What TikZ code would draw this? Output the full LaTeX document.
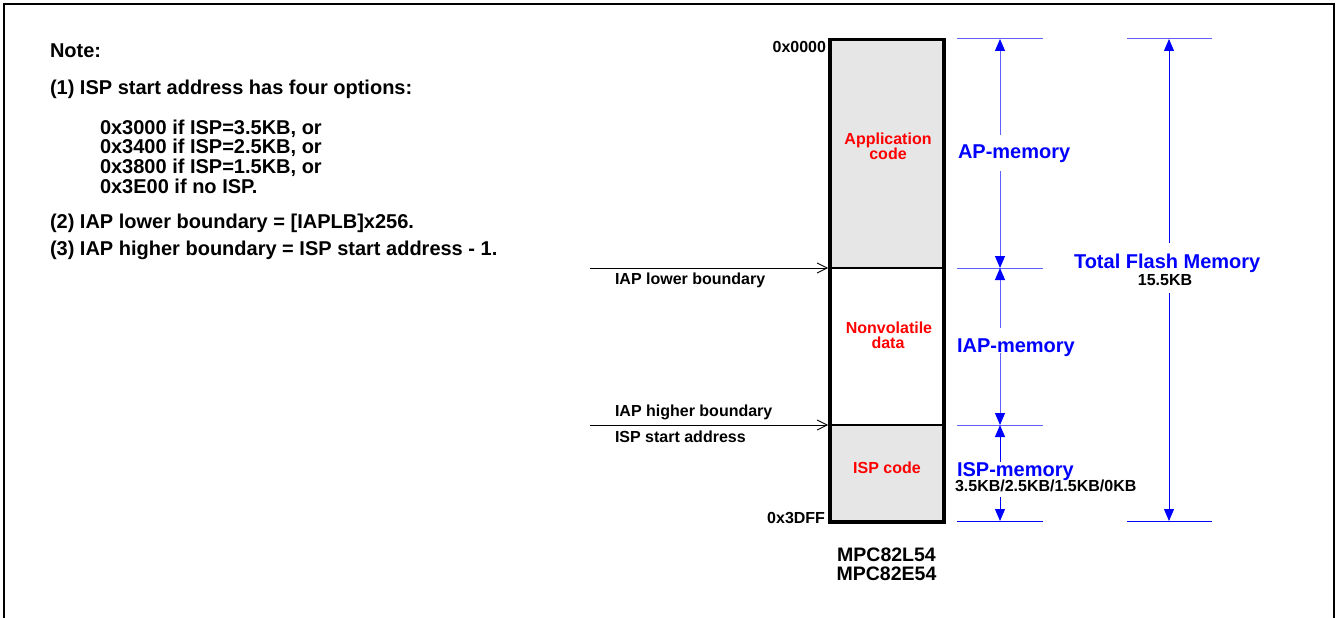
\documentclass[tikz,border=0pt]{standalone}
\usepackage{fontspec}
\setmainfont{Liberation Sans}
\usetikzlibrary{arrows.meta}
\definecolor{memred}{RGB}{255,0,0}
\definecolor{dimblue}{RGB}{0,0,255}
\definecolor{dimlight}{RGB}{95,95,255}
\definecolor{memgray}{RGB}{230,230,230}
\begin{document}
\begin{tikzpicture}[x=1pt,y=-1pt,
  every node/.style={inner sep=0pt,outer sep=0pt,font=\bfseries},
  notetxt/.style={anchor=base west,font=\fontsize{20}{21}\selectfont\bfseries},
  smalltxt/.style={font=\fontsize{16}{17}\selectfont\bfseries},
  regiontxt/.style={anchor=base,text=memred,font=\fontsize{16}{17}\selectfont\bfseries},
  bigblue/.style={anchor=base west,text=dimblue,font=\fontsize{20}{21}\selectfont\bfseries},
  chiptxt/.style={anchor=base,font=\fontsize{19.5}{20}\selectfont\bfseries},
  ptr/.style={line width=0.8pt,-{Straight Barb[length=10pt,width=10pt,line width=0.8pt]}},
  tick/.style={line width=1pt},
  dimarrow/.style={line width=1pt,-{Triangle[length=12pt,width=10pt,color=dimblue]}}]
\useasboundingbox (0,0) rectangle (1344,618);
% outer frame
\draw[line width=2.5pt] (4,618) -- (4,4) -- (1334,4) -- (1334,618);
% notes
\node[notetxt] (n0) at (50,58) {Note:};
\node[notetxt] (n1) at (50,94) {(1) ISP start address has four options:};
\node[notetxt] (n1a) at (100,134) {0x3000 if ISP=3.5KB, or};
\node[notetxt] (n1b) at (100,153.8) {0x3400 if ISP=2.5KB, or};
\node[notetxt] (n1c) at (100,173.6) {0x3800 if ISP=1.5KB, or};
\node[notetxt] (n1d) at (100,193.3) {0x3E00 if no ISP.};
\node[notetxt] (n2) at (50,228) {(2) IAP lower boundary = [IAPLB]x256.};
\node[notetxt] (n3) at (50,255) {(3) IAP higher boundary = ISP start address - 1.};
% memory map
\fill[memgray] (830,39.5) rectangle (944,268);
\fill[memgray] (830,425) rectangle (944,522);
\draw[line width=2pt] (830,268) -- (944,268);
\draw[line width=2pt] (830,425) -- (944,425);
\draw[line width=3.5pt] (830,39.5) rectangle (944,522);
\node[regiontxt] (app1) at (888,144) {Application};
\node[regiontxt] (app2) at (888,159) {code};
\node[regiontxt] (nv1) at (889,333) {Nonvolatile};
\node[regiontxt] (nv2) at (888,348) {data};
\node[regiontxt] (ispc) at (887,473) {ISP code};
\node[smalltxt,anchor=base east] (a0) at (826,53) {0x0000};
\node[smalltxt,anchor=base east] (a1) at (825,523) {0x3DFF};
\node[chiptxt] (chip1) at (886.5,561) {MPC82L54};
\node[chiptxt] (chip2) at (886.5,580) {MPC82E54};
% boundary pointers
\coordinate (lbs) at (590,268);
\coordinate (lbe) at (828,268);
\coordinate (hbs) at (590,425);
\coordinate (hbe) at (828,425);
\draw[ptr] (lbs) -- (lbe);
\draw[ptr] (hbs) -- (hbe);
\node[smalltxt,anchor=base west] (lbl) at (615,284) {IAP lower boundary};
\node[smalltxt,anchor=base west] (hbl) at (615,416) {IAP higher boundary};
\node[smalltxt,anchor=base west] (isl) at (615,442) {ISP start address};
% dimension ticks
\coordinate (t0a) at (957,39);  \coordinate (t0b) at (1043,39);
\coordinate (t1a) at (957,268); \coordinate (t1b) at (1043,268);
\coordinate (t2a) at (957,425); \coordinate (t2b) at (1043,425);
\coordinate (t3a) at (957,521); \coordinate (t3b) at (1043,521);
\coordinate (u0a) at (1127,39); \coordinate (u0b) at (1212,39);
\coordinate (u3a) at (1127,521); \coordinate (u3b) at (1212,521);
\draw[tick,dimlight] (t0a) -- (t0b);
\draw[tick,dimlight] (t1a) -- (t1b);
\draw[tick,dimlight] (t2a) -- (t2b);
\draw[tick,dimblue] (t3a) -- (t3b);
\draw[tick,dimlight] (u0a) -- (u0b);
\draw[tick,dimblue] (u3a) -- (u3b);
% dimension labels
\node[bigblue] (apm) at (958,158) {AP-memory};
\node[bigblue] (iapm) at (957,352) {IAP-memory};
\node[bigblue] (ispm) at (957,476) {ISP-memory};
\node[smalltxt,anchor=base west] (ispsz) at (955,491) {3.5KB/2.5KB/1.5KB/0KB};
\node[bigblue] (tot) at (1074,268) {Total Flash Memory};
\node[smalltxt,anchor=base] (totsz) at (1165,285) {15.5KB};
% dimension arrows
\coordinate (d0) at (1000,39);
\coordinate (d1) at (1000,268);
\coordinate (d2) at (1000,425);
\coordinate (d3) at (1000,521);
\coordinate (ap1) at (1000,135);  \coordinate (ap2) at (1000,171);
\coordinate (iap1) at (1000,328); \coordinate (iap2) at (1000,353);
\coordinate (isp1) at (1000,462); \coordinate (isp2) at (1000,497);
\coordinate (e0) at (1169,39);
\coordinate (e3) at (1169,521);
\coordinate (tt1) at (1169,243);  \coordinate (tt2) at (1169,293);
\draw[dimarrow,dimlight] (ap1) -- (d0);
\draw[dimarrow,dimlight] (ap2) -- (d1);
\draw[dimarrow,dimlight] (iap1) -- (d1);
\draw[dimarrow,dimlight] (iap2) -- (d2);
\draw[dimarrow,dimblue] (isp1) -- (d2);
\draw[dimarrow,dimblue] (isp2) -- (d3);
\draw[dimarrow,dimblue] (tt1) -- (e0);
\draw[dimarrow,dimblue] (tt2) -- (e3);
\end{tikzpicture}
\end{document}
